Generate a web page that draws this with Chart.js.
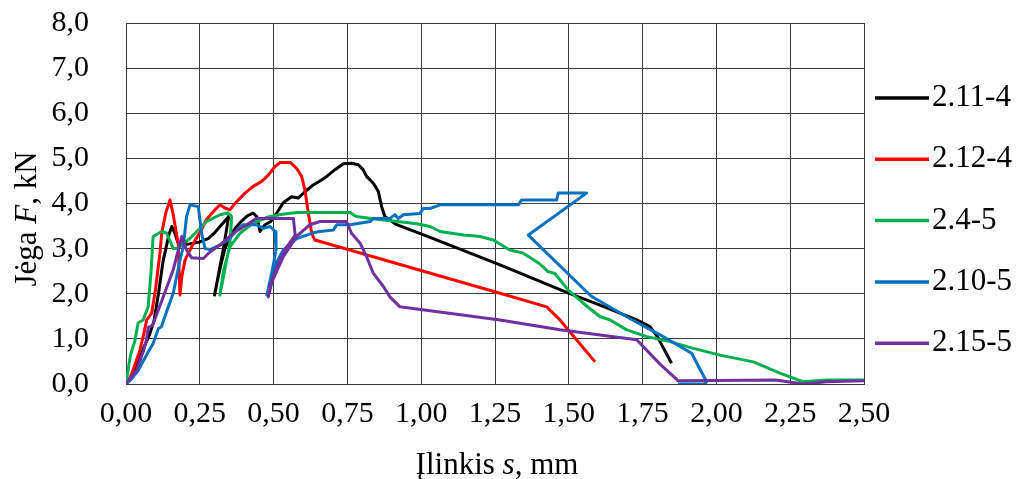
<!DOCTYPE html>
<html><head><meta charset="utf-8">
<script src="https://cdn.jsdelivr.net/npm/chart.js@4.4.1/dist/chart.umd.min.js"></script>
<style>html,body{margin:0;padding:0;background:#fff;}#wrap{width:1020px;height:479px;position:relative;}</style>
</head><body><div id="wrap"><canvas id="c" width="1020" height="479"></canvas></div>
<script>
// ---- data ----
const seriesLabels = ['2.11-4', '2.12-4', '2.4-5', '2.10-5', '2.15-5'];
const xTickLabels = ['0,00','0,25','0,50','0,75','1,00','1,25','1,50','1,75','2,00','2,25','2,50'];
const yTickLabels = ['0,0','1,0','2,0','3,0','4,0','5,0','6,0','7,0','8,0'];

const s2114_x = [0,0.03,0.06,0.08,0.095,0.11,0.125,0.135,0.145,0.155,0.165,0.175,0.19,0.21,0.23,0.25,0.278,0.30,0.32,0.34,0.348,0.33,0.30,0.31,0.32,0.335,0.352,0.37,0.39,0.41,0.43,0.443,0.454,0.471,0.49,0.51,0.532,0.55,0.561,0.583,0.606,0.634,0.657,0.68,0.708,0.736,0.764,0.787,0.803,0.815,0.838,0.855,0.866,0.877,0.917,1.03,1.267,1.497,1.606,1.73,1.775,1.80,1.848];
const s2114_y = [0,0.3,0.8,1.1,1.4,2.0,2.7,3.0,3.3,3.49,3.35,3.15,3.08,3.1,3.12,3.15,3.22,3.35,3.5,3.65,3.72,3.0,1.97,2.3,2.6,3.0,3.25,3.45,3.6,3.72,3.79,3.71,3.38,3.53,3.6,3.78,4.01,4.1,4.15,4.12,4.26,4.41,4.5,4.6,4.75,4.88,4.89,4.86,4.75,4.6,4.45,4.26,3.93,3.71,3.53,3.25,2.64,2.02,1.75,1.42,1.27,1.05,0.46];

const s2124_x = [0,0.015,0.03,0.047,0.06,0.07,0.087,0.1,0.115,0.121,0.135,0.149,0.16,0.177,0.18,0.183,0.189,0.2,0.217,0.235,0.25,0.273,0.3,0.318,0.335,0.352,0.369,0.403,0.431,0.46,0.482,0.505,0.522,0.556,0.578,0.595,0.606,0.618,0.629,0.64,1.267,1.425,1.47,1.589];
const s2124_y = [0,0.15,0.42,0.75,1.1,1.42,1.57,2.1,2.9,3.34,3.8,4.08,3.75,3.1,2.5,1.97,2.38,2.75,2.97,3.2,3.35,3.65,3.85,3.97,3.9,3.86,4.0,4.23,4.38,4.49,4.63,4.82,4.91,4.91,4.78,4.6,4.3,3.78,3.34,3.19,2.01,1.71,1.42,0.49];

const s245_x = [0,0.014,0.02,0.03,0.041,0.058,0.075,0.085,0.092,0.121,0.138,0.16,0.176,0.217,0.273,0.318,0.346,0.358,0.352,0.341,0.318,0.33,0.352,0.386,0.43,0.48,0.53,0.578,0.69,0.759,0.78,0.85,0.92,0.985,1.03,1.064,1.143,1.2,1.244,1.30,1.346,1.40,1.43,1.453,1.498,1.549,1.606,1.64,1.696,1.764,1.843,1.922,2.012,2.125,2.215,2.294,2.373,2.5];
const s245_y = [0,0.6,0.75,0.95,1.35,1.42,1.71,2.5,3.27,3.38,3.34,3.0,3.01,3.23,3.6,3.75,3.79,3.71,3.12,2.75,1.97,2.5,3.04,3.34,3.56,3.7,3.76,3.8,3.8,3.8,3.71,3.65,3.6,3.55,3.49,3.38,3.3,3.27,3.19,2.97,2.9,2.67,2.49,2.45,2.08,1.79,1.49,1.42,1.2,1.05,0.94,0.79,0.64,0.49,0.24,0.05,0.09,0.09];

const s2105_x = [0,0.02,0.042,0.076,0.092,0.11,0.12,0.14,0.16,0.183,0.194,0.205,0.217,0.245,0.256,0.268,0.285,0.318,0.352,0.375,0.397,0.443,0.465,0.488,0.505,0.508,0.495,0.477,0.488,0.51,0.533,0.578,0.634,0.657,0.702,0.714,0.759,0.827,0.838,0.894,0.911,0.922,0.94,0.996,1.007,1.03,1.064,1.329,1.34,1.459,1.464,1.56,1.363,1.575,1.696,1.809,1.916,1.967,1.96,1.87];
const s2105_y = [0,0.12,0.31,0.72,0.9,1.23,1.27,1.65,2.01,2.75,3.04,3.71,3.97,3.93,3.34,3.0,2.98,3.08,3.23,3.41,3.53,3.53,3.45,3.49,3.38,2.97,2.5,1.97,2.3,2.7,2.97,3.22,3.35,3.38,3.41,3.53,3.53,3.6,3.67,3.67,3.75,3.67,3.75,3.78,3.89,3.89,3.97,3.97,4.08,4.08,4.23,4.23,3.3,1.95,1.49,1.09,0.68,0.05,0.0,0.0];

const s2155_x = [0,0.036,0.06,0.07,0.075,0.09,0.126,0.16,0.189,0.205,0.222,0.262,0.285,0.318,0.363,0.409,0.443,0.567,0.573,0.545,0.522,0.499,0.482,0.49,0.533,0.578,0.623,0.657,0.747,0.764,0.793,0.815,0.838,0.872,0.894,0.928,1.267,1.47,1.73,1.809,1.871,2.2,2.294,2.373,2.5];
const s2155_y = [0,0.31,0.75,1.0,1.25,1.3,1.93,2.53,3.27,2.97,2.8,2.78,2.93,3.08,3.34,3.53,3.67,3.67,3.3,3.04,2.75,2.38,1.93,2.2,2.82,3.27,3.53,3.6,3.6,3.34,3.12,2.82,2.45,2.16,1.93,1.71,1.42,1.2,0.98,0.44,0.07,0.09,0.0,0.05,0.07];

const seriesX = [s2114_x, s2124_x, s245_x, s2105_x, s2155_x];
const seriesY = [s2114_y, s2124_y, s245_y, s2105_y, s2155_y];
const seriesColors = ['#000000', '#ff0000', '#00b050', '#0070c0', '#7030a0'];

// ---- chart ----
const FONT = '"Liberation Serif", "Times New Roman", serif';

const datasets = seriesLabels.map((lab, i) => ({
  label: lab,
  data: seriesX[i].map((x, k) => ({x: x, y: seriesY[i][k]})),
  borderColor: seriesColors[i],
  backgroundColor: seriesColors[i],
  borderWidth: 3,
  pointRadius: 0,
  tension: 0,
  fill: false,
  borderJoinStyle: 'round',
  order: seriesLabels.length - i
}));

const extraText = {
  id: 'extraText',
  afterDraw(chart) {
    const ctx = chart.ctx;
    ctx.save();
    ctx.fillStyle = '#000';
    drawParts(ctx, [['Įlinkis ', 'normal'], ['s', 'italic'], [', mm', 'normal']], 497, 474, 31);
    ctx.save();
    ctx.translate(36, 219);
    ctx.rotate(-Math.PI / 2);
    drawParts(ctx, [['Jėga ', 'normal'], ['F', 'italic'], [', kN', 'normal']], 0, 0, 31);
    ctx.restore();
    const ds = chart.data.datasets;
    ds.forEach((d, i) => {
      const y = 98 + i * 61.3;
      ctx.strokeStyle = d.borderColor;
      ctx.lineWidth = 3.5;
      ctx.beginPath();
      ctx.moveTo(875, y);
      ctx.lineTo(929, y);
      ctx.stroke();
      ctx.font = '31px ' + FONT;
      ctx.textAlign = 'left';
      ctx.textBaseline = 'middle';
      ctx.fillStyle = '#000';
      ctx.fillText(d.label, 932, y);
    });
    ctx.restore();
  }
};
function drawParts(ctx, parts, cx, baseY, size) {
  ctx.textBaseline = 'alphabetic';
  ctx.textAlign = 'left';
  let total = 0;
  parts.forEach(p => { ctx.font = p[1] + ' ' + size + 'px ' + FONT; total += ctx.measureText(p[0]).width; });
  let x = cx - total / 2;
  parts.forEach(p => { ctx.font = p[1] + ' ' + size + 'px ' + FONT; ctx.fillText(p[0], x, baseY); x += ctx.measureText(p[0]).width; });
}

new Chart(document.getElementById('c'), {
  type: 'line',
  data: { datasets: datasets },
  options: {
    responsive: false,
    animation: false,
    devicePixelRatio: 1,
    layout: { padding: { left: 0, right: 156, top: 23, bottom: 0 } },
    plugins: { legend: { display: false }, tooltip: { enabled: false } },
    scales: {
      x: {
        type: 'linear', min: 0, max: 2.5,
        ticks: { stepSize: 0.25, color: '#000', font: { family: FONT, size: 30 }, padding: 12, maxRotation: 0, autoSkip: false,
          callback: (v, i) => xTickLabels[i] },
        grid: { color: '#3a3a3a', lineWidth: 1, drawTicks: false },
        border: { color: '#3a3a3a', width: 1 },
        afterFit: s => { s.height = 95; s.paddingLeft = 0; s.paddingRight = 0; }
      },
      y: {
        type: 'linear', min: 0, max: 8,
        ticks: { stepSize: 1, color: '#000', font: { family: FONT, size: 30 }, padding: 37, autoSkip: false,
          callback: (v, i) => yTickLabels[i] },
        grid: { color: '#3a3a3a', lineWidth: 1, drawTicks: false },
        border: { color: '#3a3a3a', width: 1 },
        afterFit: s => { s.width = 126; s.paddingTop = 0; s.paddingBottom = 0; }
      }
    }
  },
  plugins: [extraText]
});
</script></body></html>
